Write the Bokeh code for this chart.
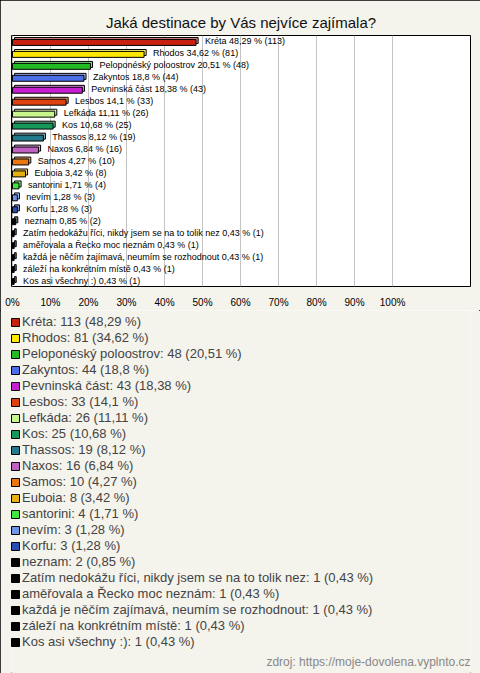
from bokeh.plotting import figure
from bokeh.layouts import column
from bokeh.models import (Range1d, FixedTicker, ColumnDataSource, Legend, LegendItem, Label)
from bokeh.core.properties import value
from bokeh.embed import file_html
from bokeh.resources import INLINE

# ---- data ----
labels = ["Kréta", "Rhodos", "Peloponéský poloostrov", "Zakyntos", "Pevninská část",
          "Lesbos", "Lefkáda", "Kos", "Thassos", "Naxos", "Samos", "Euboia",
          "santorini", "nevím", "Korfu", "neznam",
          "Zatím nedokážu říci, nikdy jsem se na to tolik nez",
          "aměřovala a Řecko moc neznám",
          "každá je něčím zajímavá, neumím se rozhodnout",
          "záleží na konkrétním místě",
          "Kos asi všechny :)"]
counts = [113, 81, 48, 44, 43, 33, 26, 25, 19, 16, 10, 8, 4, 3, 3, 2, 1, 1, 1, 1, 1]
percents = [48.29, 34.62, 20.51, 18.8, 18.38, 14.1, 11.11, 10.68, 8.12, 6.84, 4.27,
            3.42, 1.71, 1.28, 1.28, 0.85, 0.43, 0.43, 0.43, 0.43, 0.43]
colors = ["#c8200e", "#ffe800", "#22bb22", "#4a6ee8", "#c81ed2", "#e0400e", "#c8f58c",
          "#16985a", "#237a8c", "#c060c0", "#e8780f", "#e6b010", "#3ee63e", "#6e96e6",
          "#2850b4", "#000000", "#000000", "#000000", "#000000", "#000000", "#000000"]
tick_values = [0, 10, 20, 30, 40, 50, 60, 70, 80, 90, 100]
tick_labels = [f"{t}%" for t in tick_values]
title_text = "Jaká destinace by Vás nejvíce zajímala?"
source_text = "zdroj: https://moje-dovolena.vyplnto.cz"

FONT = "Liberation Sans"
BG = "#f4f3ec"
W, H1, H2 = 480, 310, 363

def lighten(c, f=0.45):
    r, g, b = int(c[1:3], 16), int(c[3:5], 16), int(c[5:7], 16)
    r, g, b = [int(v + (255 - v) * f) for v in (r, g, b)]
    return f"#{r:02x}{g:02x}{b:02x}"

def fmt(p):
    return str(p).replace(".", ",")

n = len(labels)
idx = list(range(n))
depth = 0.55  # 3D offset in percent units

src = ColumnDataSource(dict(
    y=idx,
    y_front=[i + 0.08 for i in idx],
    y_back=[i - 0.08 for i in idx],
    pct=percents,
    pct_back=[p + depth for p in percents],
    color=colors,
    light=[lighten(c) for c in colors],
    bar_text=[f"{l} {fmt(p)} % ({c})" for l, p, c in zip(labels, percents, counts)],
))

# ---------------- chart ----------------
p = figure(width=W, height=H1, output_backend="svg", toolbar_location=None,
           x_range=Range1d(-0.26, 120.5), y_range=Range1d(n - 0.5, -0.5),
           min_border_left=11, min_border_right=10, min_border_top=35,
           min_border_bottom=23)
p.background_fill_color = "white"
p.border_fill_color = BG
p.outline_line_color = "black"
p.outline_line_width = 1

p.title.text = title_text
p.title.align = "center"
p.title.text_font = FONT
p.title.text_font_size = "15px"
p.title.text_font_style = "normal"
p.title.text_color = "#111111"

p.hbar(y="y_back", left=depth, right="pct_back", height=0.5, source=src,
       fill_color="light", line_color="black", line_width=1)
front = p.hbar(y="y_front", left=0, right="pct", height=0.5, source=src,
               fill_color="color", line_color="black", line_width=1)

p.text(x="pct", y="y", text="bar_text", source=src, x_offset=9,
       text_font=value(FONT), text_font_size="9px",
       text_baseline="middle", text_align="left", text_color="black")

p.yaxis.visible = False
xa = p.xaxis[0]
xa.ticker = FixedTicker(ticks=tick_values)
xa.major_label_overrides = {t: l for t, l in zip(tick_values, tick_labels)}
xa.axis_line_color = None
xa.major_tick_line_color = None
xa.minor_tick_line_color = None
xa.major_tick_in = 0
xa.major_tick_out = 0
xa.major_label_standoff = 10
xa.major_label_text_font = FONT
xa.major_label_text_font_size = "10px"
xa.major_label_text_color = "black"

p.xgrid.ticker = FixedTicker(ticks=tick_values)
p.xgrid.grid_line_color = "#c4c4c4"
p.ygrid.grid_line_color = None

# ---------------- legend panel ----------------
p2 = figure(width=W, height=H2, output_backend="svg", toolbar_location=None,
            x_range=Range1d(1000, 1001), y_range=Range1d(100, 101),
            x_axis_type=None, y_axis_type=None)
p2.min_border = 0
p2.min_border_left = 0
p2.min_border_right = 0
p2.min_border_top = 0
p2.min_border_bottom = 0
p2.title = None
p2.background_fill_color = BG
p2.border_fill_color = BG
p2.outline_line_color = None
p2.grid.grid_line_color = None
swatch = p2.hbar(y="y_front", left=0, right="pct", height=0.5, source=src,
                 fill_color="color", line_color="black", line_width=1)

items = [LegendItem(label=f"{l}: {c} ({fmt(pc)} %)", renderers=[swatch], index=i)
         for i, (l, c, pc) in enumerate(zip(labels, counts, percents))]
legend = Legend(items=items, location=(-1, 24), orientation="vertical",
                glyph_width=10, glyph_height=10, label_standoff=2, spacing=1,
                label_height=15, padding=0, margin=0,
                label_text_font=FONT, label_text_font_size="13px",
                border_line_color=None, background_fill_alpha=0)
p2.add_layout(legend, "center")

p2.add_layout(Label(x=459, y=12, x_units="screen", y_units="screen",
                    text=source_text, text_align="right", text_baseline="middle",
                    text_font=FONT, text_font_size="12px", text_color="#888888"))

layout = column(p, p2, spacing=0,
                styles={"outline": "1px solid black", "outline-offset": "-1px"})

open("out.html", "w").write(file_html(layout, INLINE))
